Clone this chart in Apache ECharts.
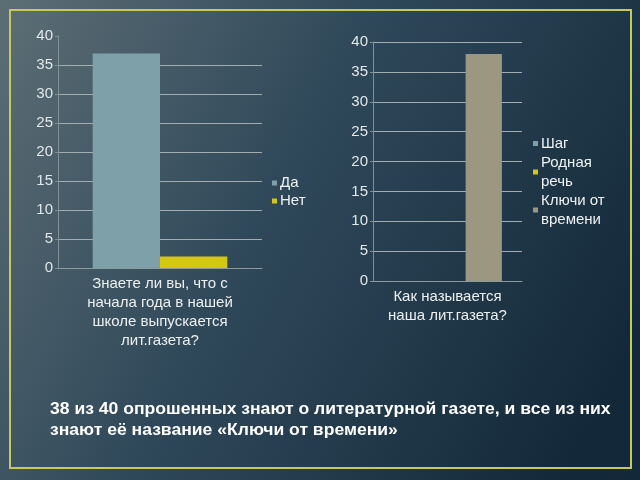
<!DOCTYPE html>
<html><head><meta charset="utf-8">
<script src="https://cdn.jsdelivr.net/npm/echarts@6/dist/echarts.min.js"></script>
<style>html,body{margin:0;padding:0;}#c{width:640px;height:480px;}</style>
</head><body><div id="c"></div>
<script>
var leftCategories = ['Знаете ли вы, что с\nначала года в нашей\nшколе выпускается\nлит.газета?'];
var leftSeriesNames = ['Да', 'Нет'];
var leftValues = [[37], [2]];
var rightCategories = ['Как называется\nнаша лит.газета?'];
var rightSeriesNames = ['Шаг', 'Родная речь', 'Ключи от времени'];
var rightValues = [[0], [0], [38]];
var yTicks = {min: 0, max: 40, interval: 5};
var caption = ['38 из 40 опрошенных знают о литературной газете, и все из них', 'знают её название «Ключи от времени»'];

var leftColors = ['#7ea1a9', '#d3c716'];
var rightColors = ['#7ea1a9', '#d3c716', '#9b9781'];
var font = "'Liberation Sans', Arial, sans-serif";
var gridLine = '#a3adb0';

function yAxis(gi, hideTop) {
  var cols = [];
  for (var i = 0; i <= 8; i++) cols.push(gridLine);
  if (hideTop) cols[8] = 'rgba(0,0,0,0)';
  return {
    type: 'value', gridIndex: gi, min: yTicks.min, max: yTicks.max, interval: yTicks.interval,
    axisLine: {show: true, lineStyle: {color: '#7f9096', width: 1}},
    axisTick: {show: true, length: 3, lineStyle: {color: '#7f9096'}},
    axisLabel: {color: '#e3e7e8', fontSize: 15, fontFamily: font, margin: 5},
    splitLine: {show: true, lineStyle: {color: cols, width: 1}}
  };
}
function xAxis(gi, cats) {
  return {
    type: 'category', gridIndex: gi, data: cats,
    axisLine: {show: true, lineStyle: {color: '#8a9a9f'}},
    axisTick: {show: false},
    axisLabel: {color: '#eef0f0', fontSize: 15, fontFamily: font, lineHeight: 19, margin: 6, interval: 0}
  };
}
var series = [];
leftSeriesNames.forEach(function (n, i) {
  series.push({name: n, type: 'bar', xAxisIndex: 0, yAxisIndex: 0, data: leftValues[i],
    itemStyle: {color: leftColors[i]}, barGap: '0%', barCategoryGap: '34%'});
});
rightSeriesNames.forEach(function (n, i) {
  series.push({name: n, type: 'bar', xAxisIndex: 1, yAxisIndex: 1, data: rightValues[i],
    itemStyle: {color: rightColors[i]}, barGap: '0%', barCategoryGap: '27%'});
});

var capFont = "bold 17px 'Liberation Sans', Arial";
var chart = echarts.init(document.getElementById('c'), null, {renderer: 'canvas'});
chart.setOption({
  animation: false,
  backgroundColor: {type: 'linear', x: 0, y: 0, x2: 1, y2: 0.7, colorStops: [
    {offset: 0, color: '#5d6e75'}, {offset: 0.45, color: '#30495a'}, {offset: 1, color: '#13293a'}]},
  textStyle: {fontFamily: font},
  grid: [
    {left: 58, right: 378, top: 36, bottom: 212},
    {left: 373, right: 118, top: 42, bottom: 199}
  ],
  xAxis: [xAxis(0, leftCategories), xAxis(1, rightCategories)],
  yAxis: [yAxis(0, true), yAxis(1, false)],
  legend: [
    {data: leftSeriesNames, orient: 'vertical', left: 272, top: 174, padding: 0, itemGap: 0,
     icon: 'rect', itemWidth: 5, itemHeight: 5,
     textStyle: {color: '#f0f2f2', fontSize: 15, lineHeight: 18, padding: [0, 0, 0, -2]}},
    {data: rightSeriesNames, orient: 'vertical', left: 533, top: 134, padding: 0, itemGap: 0,
     icon: 'rect', itemWidth: 5, itemHeight: 5,
     formatter: function (n) { return n.replace(/ (\S+)$/, '\n$1'); },
     textStyle: {color: '#f0f2f2', fontSize: 15, lineHeight: 19, padding: [0, 0, 0, -2]}}
  ],
  graphic: [
    {type: 'rect', shape: {x: 10, y: 10, width: 621, height: 458}, silent: true,
     style: {fill: 'none', stroke: '#c9c85a', lineWidth: 2}},
    {type: 'text', x: 50, y: 401, scaleX: 1.033, silent: true,
     style: {text: caption[0], fill: '#ffffff', font: capFont}},
    {type: 'text', x: 50, y: 422, scaleX: 1.033, silent: true,
     style: {text: caption[1], fill: '#ffffff', font: capFont}}
  ],
  series: series
});
</script></body></html>
